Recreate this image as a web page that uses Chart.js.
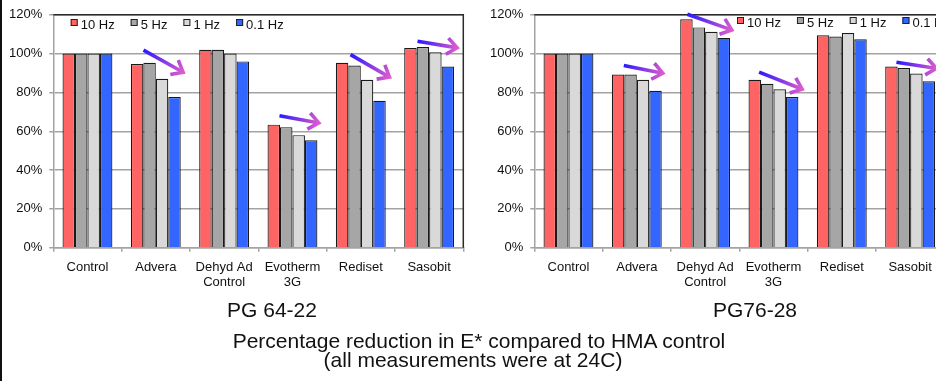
<!DOCTYPE html>
<html>
<head>
<meta charset="utf-8">
<script src="https://cdn.jsdelivr.net/npm/chart.js@4/dist/chart.umd.min.js"></script>
<style>
  html, body { margin: 0; padding: 0; background: #fff; }
  body { width: 936px; height: 381px; overflow: hidden; position: relative;
         font-family: "Liberation Sans", Arial, sans-serif; color: #111; }
  #edge { position: absolute; left: 0; top: 0; width: 2px; height: 381px; background: #111; }
  canvas { position: absolute; top: 0; }
  #pg6422 { left: 0; }
  #pg7628 { left: 481px; }
  .cap { position: absolute; font-size: 21px; line-height: 21px; text-align: center; white-space: nowrap; }
</style>
</head>
<body>
<div id="edge"></div>
<canvas id="pg6422" width="470" height="300"></canvas>
<canvas id="pg7628" width="470" height="300"></canvas>
<div class="cap" style="left:172px;top:299px;width:200px;">PG 64-22</div>
<div class="cap" style="left:655px;top:299px;width:200px;">PG76-28</div>
<div class="cap" style="left:179px;top:330px;width:600px;">Percentage reduction in E* compared to HMA control</div>
<div class="cap" style="left:223px;top:349px;width:500px;">(all measurements were at 24C)</div>

<script>
// Mixes and test frequencies
const categories = [['Control'], ['Advera'], ['Dehyd Ad', 'Control'], ['Evotherm', '3G'], ['Rediset'], ['Sasobit']];
const frequencies = ['10 Hz', '5 Hz', '1 Hz', '0.1 Hz'];
const barColors = ['#ff6464', '#a6a6a6', '#d9d9d9', '#3366ff'];

// E* relative to the HMA control (%), binder PG 64-22
const pg6422_10Hz  = [100, 94.6, 102.0, 63.4, 95.3, 102.9];
const pg6422_5Hz   = [100, 95.3, 102.0, 62.1, 93.9, 103.4];
const pg6422_1Hz   = [100, 87.0, 100.0, 58.0, 86.5, 100.7];
const pg6422_01Hz  = [100, 77.6,  96.0, 55.3, 75.7,  93.3];

// E* relative to the HMA control (%), binder PG 76-28
const pg7628_10Hz  = [100, 89.2, 117.7, 86.5, 109.4, 93.3];
const pg7628_5Hz   = [100, 89.2, 113.5, 84.5, 108.8, 92.6];
const pg7628_1Hz   = [100, 86.5, 111.3, 81.6, 110.6, 89.7];
const pg7628_01Hz  = [100, 80.9, 108.1, 77.6, 107.4, 85.8];

const yTicks = [0, 20, 40, 60, 80, 100, 120];

const FONT = '"Liberation Sans", Arial, sans-serif';
const GRID = '#a3a3a3';

// Trend arrows: category index, [offset in category widths, value %] for tail and tip
const arrows6422 = [
  { at: 1, from: [-0.18, 101.8], to: [0.40, 90.4] },
  { at: 3, from: [-0.19, 68.0],  to: [0.385, 64.3] },
  { at: 4, from: [-0.15, 99.5],  to: [0.42, 87.9] },
  { at: 5, from: [-0.17, 106.4], to: [0.41, 103.0] }
];
const arrows7628 = [
  { at: 1, from: [-0.19, 93.9],  to: [0.38, 89.9] },
  { at: 2, from: [-0.26, 120.3], to: [0.39, 112.2] },
  { at: 3, from: [-0.21, 90.5],  to: [0.42, 81.7] },
  { at: 5, from: [-0.20, 95.6],  to: [0.385, 92.4] }
];

// Dark frame on the top and right of the plot area
const plotFrame = {
  id: 'plotFrame',
  beforeDatasetsDraw(chart) {
    const { ctx, chartArea: a } = chart;
    ctx.save();
    ctx.strokeStyle = '#2a2a2a';
    ctx.lineWidth = 1.5;
    ctx.beginPath();
    ctx.moveTo(a.left, a.top);
    ctx.lineTo(a.right, a.top);
    ctx.lineTo(a.right, a.bottom);
    ctx.stroke();
    ctx.restore();
  }
};

// Legend drawn inside the plot area
const insideLegend = {
  id: 'insideLegend',
  afterDraw(chart, args, opts) {
    const { ctx, chartArea: a } = chart;
    ctx.save();
    ctx.font = '13px ' + FONT;
    ctx.textBaseline = 'alphabetic';
    let x = a.left + opts.dx;
    const base = opts.baseline;
    chart.data.datasets.forEach(ds => {
      ctx.fillStyle = ds.backgroundColor;
      ctx.fillRect(x, base - 10, 7, 7);
      ctx.strokeStyle = '#222';
      ctx.lineWidth = 1;
      ctx.strokeRect(x + 0.5, base - 9.5, 6, 6);
      ctx.fillStyle = '#111';
      ctx.fillText(ds.label, x + 10, base);
      x += 10 + ctx.measureText(ds.label).width + 16;
    });
    ctx.restore();
  }
};

// Gradient arrows showing the trend from high to low frequency
const trendArrows = {
  id: 'trendArrows',
  afterDatasetsDraw(chart, args, opts) {
    const { ctx } = chart;
    const xs = chart.scales.x, ys = chart.scales.y;
    ctx.save();
    opts.items.forEach(a => {
      const x0 = xs.getPixelForValue(a.at + a.from[0]);
      const y0 = ys.getPixelForValue(a.from[1]);
      const x1 = xs.getPixelForValue(a.at + a.to[0]);
      const y1 = ys.getPixelForValue(a.to[1]);
      const g = ctx.createLinearGradient(x0, y0, x1, y1);
      g.addColorStop(0, '#2a1aff');
      g.addColorStop(0.55, '#8a3ae6');
      g.addColorStop(1, '#dc5ccc');
      ctx.strokeStyle = g;
      ctx.lineWidth = 3.6;
      ctx.lineCap = 'butt';
      ctx.lineJoin = 'miter';
      const ang = Math.atan2(y1 - y0, x1 - x0);
      ctx.beginPath();
      ctx.moveTo(x0, y0);
      ctx.lineTo(x1 - 2.5 * Math.cos(ang), y1 - 2.5 * Math.sin(ang));
      ctx.stroke();
      const len = 13, spread = 0.68;
      ctx.beginPath();
      ctx.moveTo(x1 - len * Math.cos(ang - spread), y1 - len * Math.sin(ang - spread));
      ctx.lineTo(x1, y1);
      ctx.lineTo(x1 - len * Math.cos(ang + spread), y1 - len * Math.sin(ang + spread));
      ctx.stroke();
    });
    ctx.restore();
  }
};

function buildDatasets(series) {
  return series.map((values, i) => ({
    label: frequencies[i],
    data: values,
    backgroundColor: barColors[i],
    borderColor: '#1a1a1a',
    borderWidth: 1.2,
    categoryPercentage: 0.73,
    barPercentage: 1
  }));
}

function panelOptions(legendAt, arrows) {
  return {
    responsive: false,
    animation: false,
    events: [],
    layout: { padding: { top: 10, right: 6.7, left: 0, bottom: 0 } },
    plugins: {
      legend: { display: false },
      tooltip: { enabled: false },
      insideLegend: legendAt,
      trendArrows: { items: arrows }
    },
    scales: {
      x: {
        grid: { drawOnChartArea: false, drawTicks: true, tickLength: 4, color: GRID, lineWidth: 1.5 },
        border: { color: GRID, width: 1.5 },
        ticks: { font: { family: FONT, size: 13, lineHeight: 1.15 }, color: '#111', padding: 8,
                 maxRotation: 0, autoSkip: false },
        afterFit(s) { s.height = 52.3; }
      },
      y: {
        min: 0, max: 120,
        afterBuildTicks(s) { s.ticks = yTicks.map(v => ({ value: v })); },
        ticks: { callback: v => v + '%', font: { family: FONT, size: 13 }, color: '#111', padding: 7 },
        grid: { color: GRID, lineWidth: 1.5, tickLength: 4 },
        border: { color: GRID, width: 1.5 },
        afterFit(s) { s.width = 53.3; }
      }
    }
  };
}

new Chart(document.getElementById('pg6422'), {
  type: 'bar',
  data: { labels: categories, datasets: buildDatasets([pg6422_10Hz, pg6422_5Hz, pg6422_1Hz, pg6422_01Hz]) },
  options: panelOptions({ dx: 17.4, baseline: 29 }, arrows6422),
  plugins: [plotFrame, insideLegend, trendArrows]
});

new Chart(document.getElementById('pg7628'), {
  type: 'bar',
  data: { labels: categories, datasets: buildDatasets([pg7628_10Hz, pg7628_5Hz, pg7628_1Hz, pg7628_01Hz]) },
  options: panelOptions({ dx: 202.7, baseline: 27 }, arrows7628),
  plugins: [plotFrame, insideLegend, trendArrows]
});
</script>
</body>
</html>
